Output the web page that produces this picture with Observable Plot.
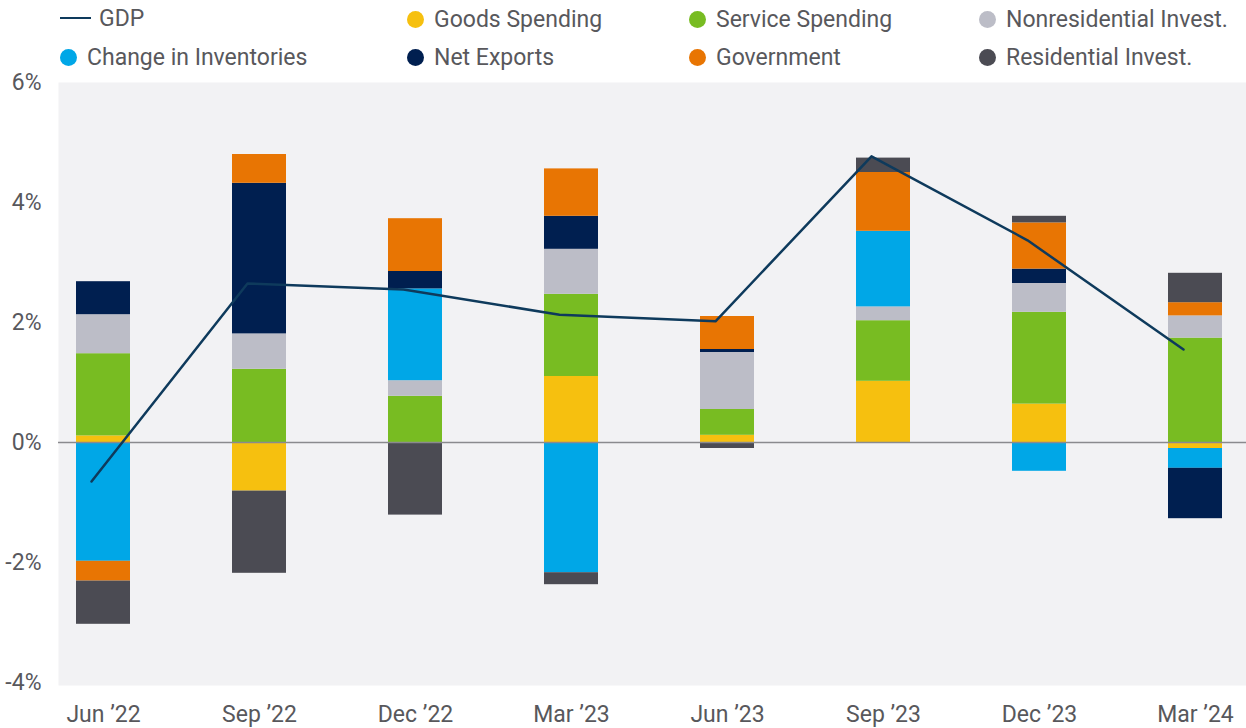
<!DOCTYPE html>
<html>
<head>
<meta charset="utf-8">
<script src="https://cdn.jsdelivr.net/npm/d3@7"></script>
<script src="https://cdn.jsdelivr.net/npm/@observablehq/plot@0.6"></script>
<style>
  html, body { margin: 0; padding: 0; background: #ffffff; }
  #wrap { position: relative; width: 1246px; height: 728px; font-family: Roboto, "Noto Sans", sans-serif; }
  #legend { position: absolute; left: 0; top: 0; width: 1246px; height: 68px; }
  .item { position: absolute; display: flex; align-items: center; color: #58585c; font-size: 23px; white-space: nowrap; line-height: 1; }
  .dot { width: 17px; height: 17px; border-radius: 50%; display: inline-block; margin-right: 10px; }
  .dash { width: 31px; height: 2px; display: inline-block; margin-right: 8px; }
  #chart { position: absolute; left: 0; top: 68px; }
</style>
</head>
<body>
<div id="wrap">
  <div id="legend"></div>
  <div id="chart"></div>
</div>
<script>
// ---- Data (contributions to real GDP growth, percentage points) ----
const quarters = ["Jun \u201922", "Sep \u201922", "Dec \u201922", "Mar \u201923", "Jun \u201923", "Sep \u201923", "Dec \u201923", "Mar \u201924"];

const components = ["Goods Spending", "Service Spending", "Nonresidential Invest.", "Change in Inventories", "Net Exports", "Government", "Residential Invest."];
const componentColors = ["#f6c00f", "#78bc22", "#bcbdc7", "#00a7e7", "#001f50", "#e87503", "#4b4b53"];

const goodsSpending        = [0.11, -0.81, 0.00, 1.10, 0.12, 1.02, 0.64, -0.10];
const serviceSpending      = [1.37, 1.22, 0.77, 1.37, 0.43, 1.01, 1.53, 1.74];
const nonresidentialInvest = [0.65, 0.59, 0.26, 0.75, 0.95, 0.23, 0.48, 0.37];
const changeInInventories  = [-1.98, 0.00, 1.53, -2.17, 0.00, 1.26, -0.48, -0.33];
const netExports           = [0.55, 2.51, 0.29, 0.55, 0.05, 0.00, 0.24, -0.84];
const government           = [-0.33, 0.48, 0.88, 0.79, 0.55, 0.98, 0.77, 0.22];
const residentialInvest    = [-0.72, -1.37, -1.21, -0.20, -0.10, 0.24, 0.11, 0.49];

const gdp = [-0.65, 2.65, 2.55, 2.13, 2.02, 4.77, 3.37, 1.55];

const yTicks = [-4, -2, 0, 2, 4, 6];

// ---- Build tables ----
const series = [goodsSpending, serviceSpending, nonresidentialInvest, changeInInventories, netExports, government, residentialInvest];
const bars = [];
components.forEach((c, i) => {
  quarters.forEach((q, j) => bars.push({quarter: q, component: c, value: series[i][j]}));
});
const gdpData = quarters.map((q, j) => ({quarter: q, value: gdp[j]}));

// ---- Legend ----
const legend = document.getElementById("legend");
const legendItems = [
  {label: "GDP", line: true, x: 60, y: 18},
  {label: components[0], color: componentColors[0], x: 407, y: 19},
  {label: components[1], color: componentColors[1], x: 689, y: 19},
  {label: components[2], color: componentColors[2], x: 979, y: 19},
  {label: components[3], color: componentColors[3], x: 60, y: 57},
  {label: components[4], color: componentColors[4], x: 407, y: 57},
  {label: components[5], color: componentColors[5], x: 689, y: 57},
  {label: components[6], color: componentColors[6], x: 979, y: 57}
];
legendItems.forEach(it => {
  const d = document.createElement("div");
  d.className = "item";
  d.style.left = it.x + "px";
  d.style.top = (it.y - 12) + "px";
  d.style.height = "24px";
  const sw = document.createElement("span");
  if (it.line) { sw.className = "dash"; sw.style.background = "#0e3a5c"; }
  else { sw.className = "dot"; sw.style.background = it.color; }
  d.appendChild(sw);
  const t = document.createElement("span");
  t.textContent = it.label;
  d.appendChild(t);
  legend.appendChild(d);
});

// ---- Chart ----
const chart = Plot.plot({
  width: 1246,
  height: 660,
  marginTop: 14,
  marginBottom: 43,
  marginLeft: 58,
  marginRight: 0,
  style: {fontFamily: "Roboto, 'Noto Sans', sans-serif", fontSize: "23px", color: "#58585c", background: "transparent"},
  x: {domain: quarters, range: [21.6, 1276], paddingInner: 0.656, paddingOuter: 0.328, label: null, tickSize: 0, tickPadding: 20},
  y: {domain: [-4.05, 6], ticks: yTicks, tickFormat: d => `${d}%`, label: null, tickSize: 0, tickPadding: 17},
  color: {domain: components, range: componentColors},
  marks: [
    Plot.frame({fill: "#f2f2f4", stroke: null}),
    Plot.barY(bars, {x: "quarter", y: "value", fill: "component"}),
    Plot.ruleY([0], {stroke: "#8a8a8e", strokeWidth: 1.5}),
    Plot.lineY(gdpData, {x: "quarter", y: "value", stroke: "#0e3a5c", strokeWidth: 2.5, dx: -12})
  ]
});
document.getElementById("chart").appendChild(chart);
</script>
</body>
</html>
